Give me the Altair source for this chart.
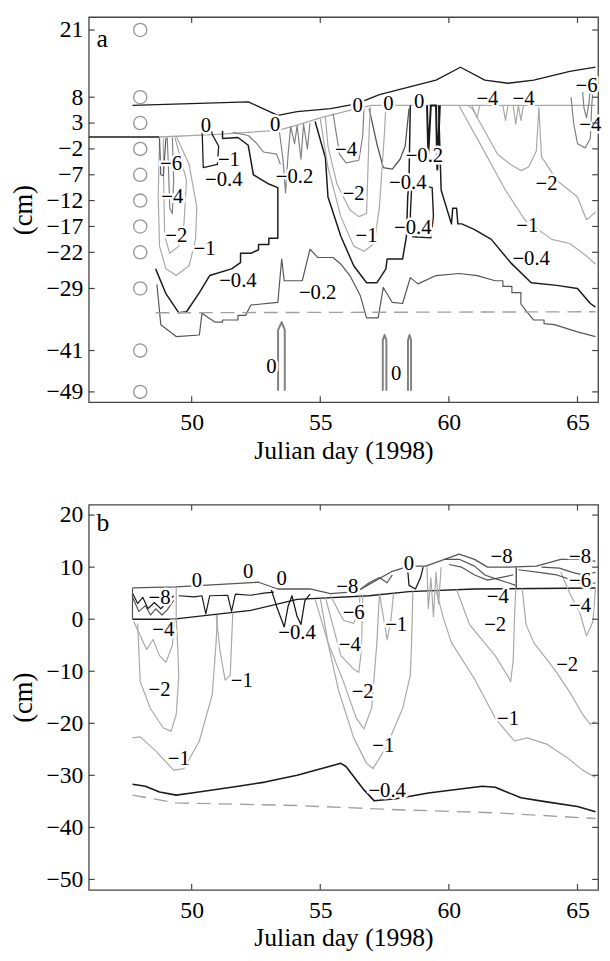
import altair as alt
import pandas as pd

M = "\u2212"
FONT = "Liberation Serif"
W, H = 517, 391

X_DOMAIN = [46.0, 65.8]
A_Y_DOMAIN = [-51.0, 23.5]
B_Y_DOMAIN = [-52.0, 22.0]
X_TICKS = [50, 55, 60, 65]
A_Y_TICKS = [21, 8, 3, -2, -7, -12, -17, -22, -29, -41, -49]
B_Y_TICKS = [20, 10, 0, -10, -20, -30, -40, -50]
SENSOR_DAY = [48.0] * len(A_Y_TICKS)

BLACK, DARK, MID, LIGHT = "#1a1a1a", "#555555", "#808080", "#a8a8a8"

# ---------------- panel a ----------------
A_SURF_D = [47.7, 52.2, 53.35, 54.1, 55.4, 56.4, 57.3, 59.5, 60.45, 61.4, 62.3, 63.3, 64.7, 65.7]
A_SURF_C = [6.4, 7.1, 4.5, 5.2, 5.8, 6.7, 8.5, 11.3, 13.8, 11.3, 10.7, 11.3, 13.0, 13.8]
A_GRND_D = [46.0, 48.75]
A_GRND_C = [0.3, 0.3]
A_TOP0_D = [48.75, 51.0, 53.35, 54.1, 55.0, 56.4, 57.0, 65.7]
A_TOP0_C = [0.3, 0.8, 1.6, 2.6, 4.0, 5.8, 6.4, 6.4]
A_DASH_D = [48.6, 65.7]
A_DASH_C = [-33.7, -33.5]
A_M02_D = [48.65, 48.8, 49.4, 50.3, 50.4, 50.9, 51.2, 51.2, 51.55, 51.8, 51.8, 52.1, 52.3, 53.35, 53.5, 53.6,
           54.3, 54.6, 54.9, 55.5, 55.8, 56.15, 56.55, 56.8, 57.25, 57.45, 57.8, 58.2, 58.5, 58.8, 59.5, 60.4,
           61.1, 61.8, 62.1, 62.1, 62.45, 62.45, 62.8, 62.8, 63.05, 63.3, 63.7, 63.7, 64.1, 65.0, 65.7]
A_M02_C = [-28.2, -36.0, -38.3, -38.0, -33.8, -35.5, -35.5, -35.1, -35.1, -35.1, -34.2, -34.2, -32.2, -31.7,
           -23.3, -27.5, -27.5, -21.4, -23.0, -23.0, -24.3, -26.5, -30.3, -34.7, -34.7, -28.8, -31.7, -31.9,
           -26.9, -28.1, -26.5, -26.1, -26.5, -27.5, -27.5, -28.6, -28.6, -29.8, -29.8, -32.0, -33.6, -35.1,
           -35.1, -35.8, -36.0, -37.4, -38.3]
A_M04L_D = [51.2, 51.2, 51.8, 52.2, 52.4, 53.0, 53.35, 53.35, 53.0, 53.0, 52.6, 52.6, 52.3, 51.9, 51.9,
            51.55, 50.7, 50.3, 49.8, 49.5, 49.0, 48.6]
A_M04L_C = [1.5, 0.0, 0.2, -1.3, -7.0, -8.8, -9.5, -19.3, -19.3, -20.5, -20.5, -21.5, -22.2, -22.2, -24.0,
            -25.2, -26.5, -29.8, -33.5, -33.7, -30.0, -25.2]
A_M04M_D = [54.8, 55.2, 55.3, 55.8, 56.3, 56.8, 57.2, 57.55, 57.6, 58.2, 58.35, 58.4, 58.45, 58.5]
A_M04M_C = [3.3, -3.7, -11.3, -18.9, -24.6, -27.9, -27.9, -25.2, -23.3, -23.3, -18.9, -11.3, -8.1, 6.4]
A_M04B_D = [58.55, 58.5, 58.6, 59.3, 59.4, 59.35, 58.9, 58.55]
A_M04B_C = [-9.8, -15.0, -19.0, -19.2, -15.0, -9.5, -9.0, -9.8]
A_M04R_D = [59.6, 59.7, 60.1, 60.15, 60.3, 60.35, 60.5, 61.0, 61.65, 62.4, 63.2, 64.2, 65.0, 65.5, 65.7]
A_M04R_C = [6.4, -10.0, -16.5, -13.5, -13.5, -16.5, -16.5, -17.6, -19.5, -24.0, -27.9, -28.4, -29.0, -31.9, -32.6]
A_M1LOOP_D = [50.4, 50.45, 51.0, 51.05, 50.8, 50.7]
A_M1LOOP_C = [3.0, -5.6, -5.0, -1.5, 0.8, 3.0]
A_M02K_D = [56.9, 57.2, 57.45, 57.8, 58.1, 58.3, 58.45]
A_M02K_C = [5.8, -1.0, -5.6, -5.9, -4.0, -1.5, 5.8]
A_SPK1_D = [59.15, 59.2, 59.3, 59.5, 59.55, 59.65]
A_SPK1_C = [6.4, -3.0, 6.4, 6.4, -6.0, 6.4]
A_M1L_D = [48.75, 48.7, 48.75, 49.0, 49.4, 49.9, 50.15, 50.2, 49.9, 49.4]
A_M1L_C = [-0.5, -11.0, -20.8, -25.2, -26.5, -24.6, -19.5, -13.2, -5.0, 0.5]
A_M2L_D = [48.9, 48.9, 48.95, 49.15, 49.5, 49.7, 49.8, 49.35]
A_M2L_C = [0.0, -5.0, -18.9, -22.2, -20.8, -16.5, -8.1, 0.2]
A_M4L_D = [49.05, 49.1, 49.15, 49.25, 49.3, 49.25]
A_M4L_C = [0.2, -6.0, -13.5, -14.5, -8.0, 0.2]
A_M6L_D = [48.75, 48.8, 48.9, 48.95, 49.0]
A_M6L_C = [0.1, -7.0, -7.2, -3.5, 0.1]
A_M1M_D = [55.0, 55.3, 55.8, 56.3, 56.7, 57.1, 57.3, 57.5, 57.55]
A_M1M_C = [3.8, -5.6, -15.1, -20.8, -21.8, -20.3, -13.2, 1.4, 6.4]
A_M2M_D = [55.2, 55.3, 55.65, 56.15, 56.5, 56.8, 56.9, 56.95]
A_M2M_C = [4.2, -1.5, -8.8, -13.8, -15.1, -14.5, 1.4, 6.2]
A_M4M_D = [55.5, 55.75, 56.0, 56.5, 56.65, 56.7]
A_M4M_C = [4.8, -3.0, -4.7, -4.2, 0.5, 5.8]
A_M1R_D = [60.4, 60.6, 61.3, 62.2, 62.95, 64.0, 64.7, 65.35, 65.7]
A_M1R_C = [6.4, 4.5, -1.8, -10.0, -15.7, -19.5, -20.3, -22.7, -24.3]
A_M2R_D = [60.75, 60.9, 61.4, 61.9, 62.4, 62.8, 63.1, 63.4, 63.5, 63.6, 64.2, 65.0, 65.35, 65.5, 65.7]
A_M2R_C = [6.4, 5.8, 1.4, -3.1, -5.0, -6.2, -5.5, -2.4, 6.0, -3.5, -8.1, -11.3, -15.7, -15.1, -14.2]
A_M4R_D = [64.75, 64.85, 65.0, 65.3, 65.5, 65.55, 65.6]
A_M4R_C = [8.0, 3.0, -1.0, -1.8, 0.0, 6.0, 9.5]
A_M6R_D = [65.2, 65.25, 65.35, 65.45, 65.5]
A_M6R_C = [9.0, 6.0, 4.0, 7.0, 10.0]
A_SPK2_D = [60.9, 61.1, 61.2, 62.1, 62.2, 62.3, 62.5, 62.6, 62.7, 62.8, 62.9]
A_SPK2_C = [6.4, 4.0, 6.4, 6.4, 3.5, 6.4, 6.4, 2.8, 6.4, 3.5, 6.4]
A_SPK3_D = [53.4, 53.55, 53.65, 53.75, 53.85, 54.0, 54.1, 54.25, 54.35, 54.5, 54.6]
A_SPK3_C = [1.8, -4.0, -10.5, -3.0, 2.3, -1.0, 2.5, -4.0, 2.8, -2.0, 3.0]
A_M02T_D = [51.6, 52.2, 52.5, 52.8, 53.3, 53.45]
A_M02T_C = [1.2, 0.6, -0.8, -2.6, -3.0, -5.0]
A_Z1_D = [53.36, 53.36, 53.5, 53.62, 53.62]
A_Z1_C = [-48.8, -37.0, -35.5, -37.0, -48.8]
A_Z2_D = [57.43, 57.43, 57.5, 57.57, 57.57]
A_Z2_C = [-48.8, -39.0, -38.0, -39.0, -48.8]
A_Z3_D = [58.41, 58.41, 58.47, 58.53, 58.53]
A_Z3_C = [-48.8, -39.0, -38.0, -39.0, -48.8]

A_LAB_D = [49.2, 49.25, 49.4, 50.5, 50.55, 51.45, 51.25, 53.25, 54.0, 51.8, 54.9, 56.0, 56.3, 56.8, 56.45,
           57.65, 58.85, 59.05, 58.4, 58.6, 61.5, 62.9, 65.35, 65.5, 63.8, 63.05, 63.2, 53.1, 57.95]
A_LAB_C = [-5.0, -11.3, -18.9, -21.4, 2.4, -4.1, -8.1, 2.6, -7.5, -27.5, -29.8, -2.2, -10.7, -18.9, 6.2,
           6.7, 7.1, -3.3, -8.6, -17.4, 7.7, 7.7, 10.2, 2.6, -8.8, -17.0, -23.3, -44.2, -45.5]
A_LAB_T = [M + "6", M + "4", M + "2", M + "1", "0", M + "1", M + "0.4", "0", M + "0.2", M + "0.4", M + "0.2",
           M + "4", M + "2", M + "1", "0", "0", "0", M + "0.2", M + "0.4", M + "0.4", M + "4", M + "4",
           M + "6", M + "4", M + "2", M + "1", M + "0.4", "0", "0"]

# ---------------- panel b ----------------
B_GRND_D = [47.7, 49.3, 52.3, 54.1, 56.9, 58.45, 61.0, 65.7]
B_GRND_C = [0.0, 0.0, 1.7, 3.8, 4.5, 5.3, 5.8, 6.0]
B_SURF_D = [47.7, 49.4, 52.6, 53.35, 54.6, 55.4, 56.4, 57.8, 58.45, 59.1, 60.4, 61.0, 61.5, 62.3, 63.4,
            64.35, 65.35, 65.7]
B_SURF_C = [6.0, 6.2, 7.1, 5.8, 5.8, 4.9, 5.3, 9.2, 10.2, 10.2, 12.5, 11.5, 10.0, 10.0, 10.2, 11.5, 11.5, 11.1]
B_DASH_D = [47.7, 49.4, 54.1, 57.95, 61.8, 65.7]
B_DASH_C = [-33.8, -35.3, -35.8, -36.6, -37.2, -38.3]
B_M04_D = [47.7, 48.2, 48.75, 49.4, 50.0, 51.55, 52.85, 54.1, 55.8, 56.0, 56.7, 57.1, 57.95, 59.2, 61.3,
           61.8, 62.8, 63.8, 65.0, 65.7]
B_M04_C = [-31.7, -32.1, -33.2, -33.8, -33.4, -32.3, -31.3, -30.0, -27.7, -28.3, -32.8, -34.9, -34.5, -33.4,
           -32.1, -32.3, -34.3, -35.1, -36.0, -37.0]
B_M1L_D = [47.7, 48.0, 48.6, 49.3, 49.7, 50.3, 50.8, 50.95, 51.0]
B_M1L_C = [-22.8, -22.6, -25.3, -29.0, -28.7, -23.4, -14.5, -4.5, 0.8]
B_M2L_D = [47.9, 48.0, 48.4, 48.9, 49.2, 49.4, 49.5, 49.45, 49.4]
B_M2L_C = [-0.8, -12.0, -17.2, -20.9, -21.5, -18.3, -10.8, -4.5, 0.2]
B_M4L_D = [47.75, 48.25, 48.5, 48.75, 49.0, 49.25, 49.35]
B_M4L_C = [-0.5, -5.8, -3.9, -7.0, -8.3, -5.0, 0.1]
B_M1B_D = [50.95, 51.1, 51.3, 51.5, 51.55, 51.6]
B_M1B_C = [0.8, -6.0, -11.7, -10.8, -4.5, 1.3]
B_M6M_D = [55.4, 55.9, 56.3, 56.5, 56.55]
B_M6M_C = [4.5, -0.2, -0.8, 1.5, 4.8]
B_M4M_D = [55.2, 55.8, 56.3, 56.5, 56.6, 56.65]
B_M4M_C = [4.2, -7.0, -9.6, -10.2, -6.0, 4.7]
B_M2M_D = [55.0, 55.3, 55.9, 56.4, 56.7, 57.0, 57.2, 57.3]
B_M2M_C = [4.0, -4.5, -12.0, -19.0, -21.1, -17.0, -4.5, 4.8]
B_M1M_D = [54.8, 55.3, 55.7, 56.3, 56.8, 57.05, 57.55, 58.2, 58.5, 58.55, 58.6]
B_M1M_C = [3.8, -4.5, -13.5, -22.8, -27.7, -28.7, -24.7, -17.2, -10.8, -4.5, 5.3]
B_M1N_D = [57.3, 57.45, 57.6, 57.75, 57.85]
B_M1N_C = [5.0, 0.5, -4.0, 0.0, 5.0]
B_M1R_D = [59.5, 59.8, 60.1, 61.0, 61.8, 62.3, 62.55, 63.05, 63.8, 64.6, 65.2, 65.7]
B_M1R_C = [5.6, 0.0, -4.5, -11.5, -19.0, -22.0, -23.4, -22.8, -24.0, -26.6, -29.0, -30.4]
B_M2RA_D = [60.3, 60.8, 61.3, 61.8, 62.3, 62.4, 62.5, 62.55, 62.6]
B_M2RA_C = [5.7, -1.0, -4.0, -7.0, -11.0, -12.0, -8.0, 0.0, 5.9]
B_M2RB_D = [62.85, 63.0, 63.3, 64.1, 64.7, 65.2, 65.5, 65.7]
B_M2RB_C = [5.9, -1.0, -4.5, -9.6, -14.0, -18.3, -20.2, -19.6]
B_M4R_D = [64.35, 64.7, 65.1, 65.35, 65.6, 65.7]
B_M4R_C = [9.0, 5.0, 1.1, -3.2, -0.5, 6.0]
B_SPK_D = [59.15, 59.2, 59.3, 59.4, 59.5, 59.6, 59.7]
B_SPK_C = [10.0, 2.0, 8.0, 0.5, 9.0, 3.0, 10.0]
B_S1_D = [47.7, 47.9, 48.1, 48.3, 48.55, 48.8, 49.0, 49.3]
B_S1_C = [5.0, 3.0, 4.2, 2.0, 3.2, 2.0, 3.0, 4.5]
B_S2_D = [47.7, 47.95, 48.2, 48.4, 48.6, 48.85, 49.05, 49.3]
B_S2_C = [4.2, 1.5, 2.6, 0.8, 2.0, 0.8, 1.8, 3.6]
B_S3_D = [49.5, 50.1, 50.4, 50.55, 50.7, 51.4, 51.55, 51.7, 52.3, 52.8, 53.2]
B_S3_C = [4.5, 4.3, 4.5, 1.0, 4.5, 4.6, 1.5, 4.8, 4.6, 5.0, 5.2]
B_S4_D = [53.1, 53.3, 53.6, 53.75, 53.9, 54.1, 54.25, 54.4, 54.6]
B_S4_C = [5.6, 2.5, -1.5, 2.5, 4.5, 0.5, -1.0, 3.5, 4.8]
B_S5_D = [56.5, 56.9, 57.3, 57.6, 57.8]
B_S5_C = [5.5, 7.0, 8.0, 7.0, 8.5]
B_S6_D = [58.4, 58.45, 58.7, 58.9, 59.0]
B_S6_C = [9.5, 6.5, 5.8, 8.0, 10.0]
B_S7_D = [59.8, 60.4, 61.0, 61.4, 61.8, 62.3, 62.6]
B_S7_C = [11.5, 11.5, 10.2, 8.5, 7.8, 7.0, 6.5]
B_S8_D = [60.0, 60.5, 61.0, 61.5, 62.0, 62.5]
B_S8_C = [10.5, 10.0, 8.5, 7.5, 8.0, 8.5]
B_S9_D = [62.7, 63.5, 64.2, 64.8, 65.3, 65.7]
B_S9_C = [9.5, 9.0, 8.5, 7.5, 6.5, 7.0]
B_S10_D = [63.6, 64.3, 64.8, 65.2, 65.7]
B_S10_C = [10.0, 9.8, 9.0, 8.5, 9.0]
B_V_D = [49.4, 49.4]
B_V_C = [0.1, 6.2]
B_V0_D = [47.7, 47.7]
B_V0_C = [0.0, 6.0]
B_V2_D = [62.62, 62.62]
B_V2_C = [5.9, 10.0]

B_LAB_D = [48.75, 48.9, 48.75, 49.5, 51.95, 50.2, 52.2, 53.5, 54.1, 56.05, 56.3, 56.15, 56.65, 57.45, 57.6,
           57.95, 58.45, 62.05, 61.9, 61.8, 62.3, 64.6, 65.1, 65.1, 65.1]
B_LAB_C = [4.0, -2.1, -13.6, -26.8, -11.9, 7.4, 9.1, 7.7, -2.6, 6.2, 1.1, -4.9, -14.0, -24.3, -33.0,
           -1.1, 10.6, 11.9, 4.3, -1.1, -19.2, -8.9, 11.9, 7.4, 2.6]
B_LAB_T = [M + "8", M + "4", M + "2", M + "1", M + "1", "0", "0", "0", M + "0.4", M + "8", M + "6", M + "4",
           M + "2", M + "1", M + "0.4", M + "1", "0", M + "8", M + "4", M + "2", M + "1", M + "2", M + "8",
           M + "6", M + "4"]

A_LINES = [
    (A_SURF_D, A_SURF_C, BLACK, 1.3), (A_GRND_D, A_GRND_C, BLACK, 1.3), (A_TOP0_D, A_TOP0_C, LIGHT, 1.3),
    (A_M02_D, A_M02_C, DARK, 1.2), (A_M04L_D, A_M04L_C, BLACK, 1.5), (A_M04M_D, A_M04M_C, BLACK, 1.5),
    (A_M04B_D, A_M04B_C, BLACK, 1.4), (A_M04R_D, A_M04R_C, BLACK, 1.5), (A_M1LOOP_D, A_M1LOOP_C, BLACK, 1.3),
    (A_M02K_D, A_M02K_C, DARK, 1.3), (A_SPK1_D, A_SPK1_C, BLACK, 2.0), (A_M1L_D, A_M1L_C, LIGHT, 1.2),
    (A_M2L_D, A_M2L_C, LIGHT, 1.2), (A_M4L_D, A_M4L_C, MID, 1.2), (A_M6L_D, A_M6L_C, DARK, 1.2),
    (A_M1M_D, A_M1M_C, LIGHT, 1.2), (A_M2M_D, A_M2M_C, LIGHT, 1.2), (A_M4M_D, A_M4M_C, MID, 1.2),
    (A_M1R_D, A_M1R_C, LIGHT, 1.2), (A_M2R_D, A_M2R_C, LIGHT, 1.2), (A_M4R_D, A_M4R_C, MID, 1.2),
    (A_M6R_D, A_M6R_C, MID, 1.2), (A_SPK2_D, A_SPK2_C, LIGHT, 1.2), (A_SPK3_D, A_SPK3_C, MID, 1.2),
    (A_M02T_D, A_M02T_C, MID, 1.2), (A_Z1_D, A_Z1_C, MID, 2.0), (A_Z2_D, A_Z2_C, MID, 2.0),
    (A_Z3_D, A_Z3_C, MID, 2.0),
]
B_LINES = [
    (B_GRND_D, B_GRND_C, BLACK, 1.4), (B_SURF_D, B_SURF_C, DARK, 1.3), (B_M04_D, B_M04_C, BLACK, 1.6),
    (B_M1L_D, B_M1L_C, LIGHT, 1.2), (B_M2L_D, B_M2L_C, LIGHT, 1.2), (B_M4L_D, B_M4L_C, LIGHT, 1.2),
    (B_M1B_D, B_M1B_C, LIGHT, 1.2), (B_M6M_D, B_M6M_C, LIGHT, 1.2), (B_M4M_D, B_M4M_C, LIGHT, 1.2),
    (B_M2M_D, B_M2M_C, LIGHT, 1.2), (B_M1M_D, B_M1M_C, LIGHT, 1.2), (B_M1N_D, B_M1N_C, LIGHT, 1.2),
    (B_M1R_D, B_M1R_C, LIGHT, 1.2), (B_M2RA_D, B_M2RA_C, LIGHT, 1.2), (B_M2RB_D, B_M2RB_C, LIGHT, 1.2),
    (B_M4R_D, B_M4R_C, LIGHT, 1.2), (B_SPK_D, B_SPK_C, LIGHT, 1.2), (B_S1_D, B_S1_C, BLACK, 1.2),
    (B_S2_D, B_S2_C, DARK, 1.2), (B_S3_D, B_S3_C, BLACK, 1.2), (B_S4_D, B_S4_C, BLACK, 1.3),
    (B_S5_D, B_S5_C, DARK, 1.2), (B_S6_D, B_S6_C, BLACK, 1.3), (B_S7_D, B_S7_C, DARK, 1.2),
    (B_S8_D, B_S8_C, DARK, 1.2), (B_S9_D, B_S9_C, DARK, 1.2), (B_S10_D, B_S10_C, DARK, 1.2),
    (B_V_D, B_V_C, LIGHT, 1.2), (B_V0_D, B_V0_C, DARK, 1.2), (B_V2_D, B_V2_C, DARK, 1.5),
]


def lines_df(lines):
    rows = []
    for k, (ds, cs, col, w) in enumerate(lines):
        for i, (d, c) in enumerate(zip(ds, cs)):
            rows.append({"id": k, "i": i, "day": d, "cm": c, "col": col, "w": w})
    return pd.DataFrame(rows)


def panel(lines, dash_d, dash_c, lab_d, lab_c, lab_t, ydom, yticks, letter, letter_c, circles):
    xs = alt.Scale(domain=X_DOMAIN, nice=False, zero=False)
    ys = alt.Scale(domain=ydom, nice=False, zero=False)
    xaxis = alt.Axis(values=X_TICKS, title="Julian day (1998)", labelFontSize=24, titleFontSize=26,
                     labelPadding=9, titlePadding=3, labelOverlap=False, labelFlush=False)
    yaxis = alt.Axis(values=yticks, title="(cm)", labelFontSize=24, titleFontSize=27,
                     labelPadding=6, titlePadding=9, labelOverlap=False, labelFlush=False)
    X = alt.X("day:Q", scale=xs, axis=xaxis)
    Y = alt.Y("cm:Q", scale=ys, axis=yaxis)

    base = alt.Chart(lines_df(lines)).mark_line(clip=True, strokeJoin="round").encode(
        x=X, y=Y, detail="id:N", order="i:Q",
        color=alt.Color("col:N", scale=None),
        strokeWidth=alt.StrokeWidth("w:Q", scale=None),
    )
    dash = alt.Chart(pd.DataFrame({"day": dash_d, "cm": dash_c})).mark_line(
        clip=True, color="#a0a0a0", strokeWidth=1.4, strokeDash=[14, 8]).encode(x=X, y=Y)
    lab_df = pd.DataFrame({"day": lab_d, "cm": lab_c, "t": lab_t})
    halo = alt.Chart(lab_df).mark_text(font=FONT, fontSize=21, color="white", stroke="white",
                                       strokeWidth=5, baseline="middle").encode(x=X, y=Y, text="t:N")
    labs = alt.Chart(lab_df).mark_text(font=FONT, fontSize=21, color="black",
                                       baseline="middle").encode(x=X, y=Y, text="t:N")
    let = alt.Chart(pd.DataFrame({"day": [46.3], "cm": [letter_c], "t": [letter]})).mark_text(
        font=FONT, fontSize=26, align="left", baseline="middle", color="black").encode(x=X, y=Y, text="t:N")
    ydf = pd.DataFrame({"cm": yticks})
    xdf = pd.DataFrame({"day": X_TICKS})
    tl = alt.Chart(ydf).mark_rule(color="#444", strokeWidth=1.2).encode(y=Y, x=alt.value(0), x2=alt.value(6))
    tr = alt.Chart(ydf).mark_rule(color="#444", strokeWidth=1.2).encode(y=Y, x=alt.value(W - 6), x2=alt.value(W))
    tb = alt.Chart(xdf).mark_rule(color="#444", strokeWidth=1.2).encode(x=X, y=alt.value(H - 6), y2=alt.value(H))
    tt = alt.Chart(xdf).mark_rule(color="#444", strokeWidth=1.2).encode(x=X, y=alt.value(0), y2=alt.value(6))
    layers = [base, dash]
    if circles:
        circ = alt.Chart(pd.DataFrame({"day": SENSOR_DAY, "cm": A_Y_TICKS})).mark_point(
            shape="circle", size=180, filled=False, color="#6a6a6a", strokeWidth=1.3).encode(x=X, y=Y)
        layers.append(circ)
    layers += [halo, labs, let, tl, tr, tb, tt]
    return alt.layer(*layers).properties(width=W, height=H)


pa = panel(A_LINES, A_DASH_D, A_DASH_C, A_LAB_D, A_LAB_C, A_LAB_T, A_Y_DOMAIN, A_Y_TICKS, "a", 19.3, True)
pb = panel(B_LINES, B_DASH_D, B_DASH_C, B_LAB_D, B_LAB_C, B_LAB_T, B_Y_DOMAIN, B_Y_TICKS, "b", 18.5, False)

chart = alt.vconcat(pa, pb, spacing=38).properties(
    padding={"left": 0, "top": 0, "right": 0, "bottom": 0}
).configure_view(stroke="#444", strokeWidth=1.3).configure_axis(
    grid=False, ticks=False, domain=False, labelFont=FONT, titleFont=FONT, labelColor="black",
    titleColor="black", titleFontWeight="normal", labelBound=False, labelOverlap=False
)

chart.save("out.html", embed_options={"renderer": "svg", "actions": False})
